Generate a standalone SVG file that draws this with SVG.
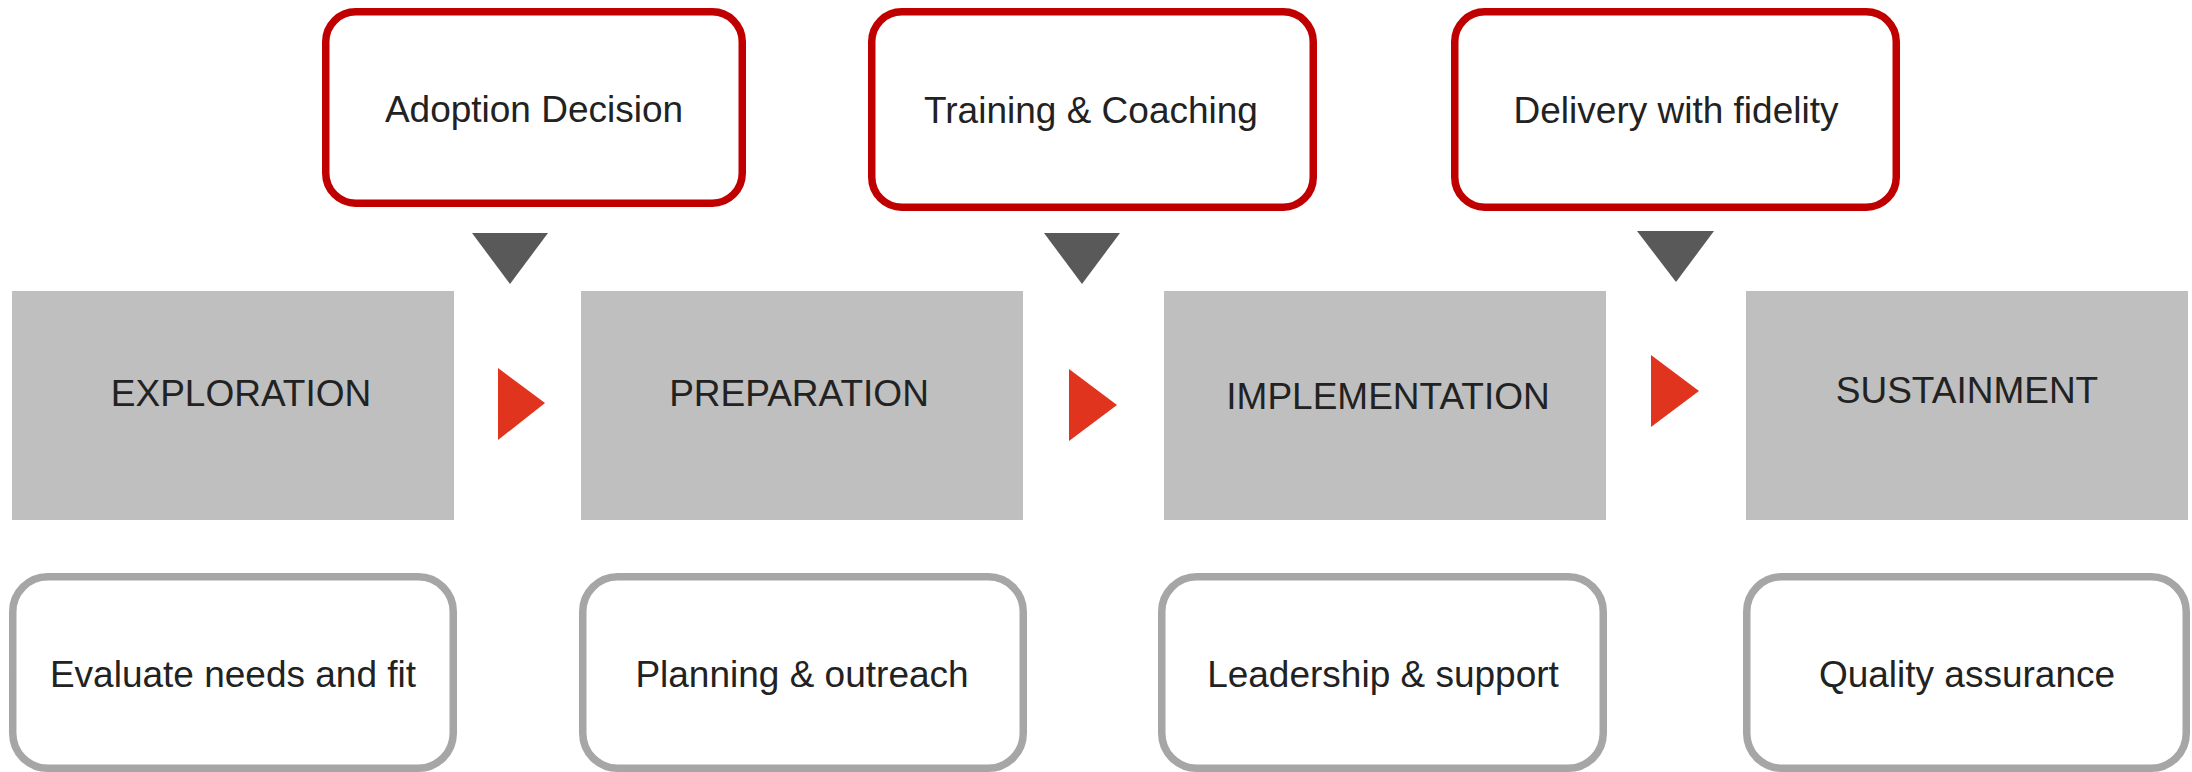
<svg xmlns="http://www.w3.org/2000/svg" width="2192" height="772" viewBox="0 0 2192 772">
<style>
.top{fill:#fff;stroke:#C00000;stroke-width:7.5}
.bot{fill:#fff;stroke:#A6A6A6;stroke-width:7.5}
.phase{fill:#BFBFBF}
.down{fill:#595959}
.right{fill:#E1341E}
text{font-family:"Liberation Sans",Arial,sans-serif;font-size:37px;fill:#222;text-anchor:middle}
</style>
<rect width="2192" height="772" fill="#fff"/>
<g id="adoption"><rect class="top" x="325.75" y="11.75" width="416.5" height="191.5" rx="30"/><text x="534" y="122">Adoption Decision</text></g>
<g id="training"><rect class="top" x="871.75" y="11.75" width="441.5" height="195.5" rx="30"/><text x="1091" y="123">Training &amp; Coaching</text></g>
<g id="delivery"><rect class="top" x="1454.75" y="11.75" width="441.5" height="195.5" rx="30"/><text x="1676" y="123">Delivery with fidelity</text></g>
<g id="exploration"><rect class="phase" x="12" y="291" width="442" height="229"/><text x="241" y="406">EXPLORATION</text></g>
<g id="preparation"><rect class="phase" x="581" y="291" width="442" height="229"/><text x="799" y="406">PREPARATION</text></g>
<g id="implementation"><rect class="phase" x="1164" y="291" width="442" height="229"/><text x="1388" y="409">IMPLEMENTATION</text></g>
<g id="sustainment"><rect class="phase" x="1746" y="291" width="442" height="229"/><text x="1967" y="403">SUSTAINMENT</text></g>
<g id="evaluate"><rect class="bot" x="12.75" y="576.75" width="440.5" height="191.5" rx="35"/><text x="233" y="687">Evaluate needs and fit</text></g>
<g id="planning"><rect class="bot" x="582.75" y="576.75" width="440.5" height="191.5" rx="35"/><text x="802" y="687">Planning &amp; outreach</text></g>
<g id="leadership"><rect class="bot" x="1161.75" y="576.75" width="441.5" height="191.5" rx="35"/><text x="1383" y="687">Leadership &amp; support</text></g>
<g id="quality"><rect class="bot" x="1746.75" y="576.75" width="439.5" height="191.5" rx="35"/><text x="1967" y="687">Quality assurance</text></g>
<g id="connectors">
<polygon class="down" points="472,233 548,233 510,284"/>
<polygon class="down" points="1044,233 1120,233 1082,284"/>
<polygon class="down" points="1637,231 1714,231 1676,282"/>
<polygon class="right" points="498,368 545,403 498,440"/>
<polygon class="right" points="1069,369 1117,405 1069,441"/>
<polygon class="right" points="1651,355 1699,391 1651,427"/>
</g>
</svg>
